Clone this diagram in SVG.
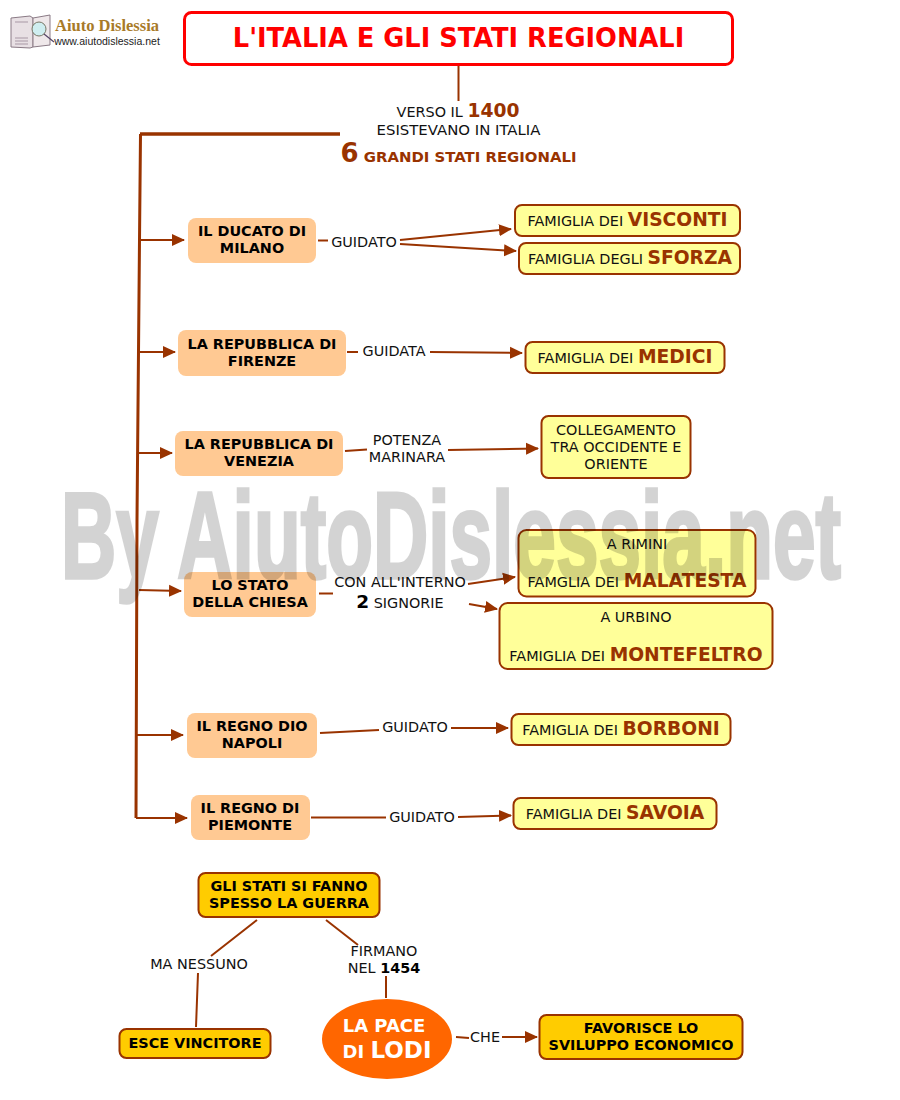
<svg xmlns="http://www.w3.org/2000/svg" width="900" height="1100" viewBox="0 0 900 1100">
<style>
text{font-family:"DejaVu Sans",Verdana,sans-serif;text-anchor:middle;fill:#111}
.t{font-size:14.400px}
.b{font-size:14.400px;font-weight:bold;fill:#000}
.h{font-size:18.700px;font-weight:bold;fill:#993300}
.p{fill:#ffc993;stroke:none}
.y{fill:#ffff99;stroke:#993300;stroke-width:2}
.o{fill:#ffcc00;stroke:#993300;stroke-width:2}
.c{fill:none;stroke:#993300;stroke-width:2}
.a{fill:none;stroke:#993300;stroke-width:2;marker-end:url(#ar)}
</style>
<defs><marker id="ar" markerUnits="userSpaceOnUse" markerWidth="13" markerHeight="13" refX="12" refY="6.500" orient="auto"><path d="M0 0.500L13 6.500L0 12.500Z" fill="#993300"/></marker></defs>
<rect width="900" height="1100" fill="#fff"/>
<g id="logo">
<path d="M11 18L30 16L33 18V47L30 48L11 47Z" fill="#e8e0e4" stroke="#8a7a85"/>
<path d="M33 18L50 15V45L33 47Z" fill="#efe8ea" stroke="#8a7a85"/>
<path d="M15 22H28M15 38H28M15 41H28M15 44H28" stroke="#a898a5"/>
<circle cx="39" cy="29" r="7" fill="#cfeef0" stroke="#776"/>
<path d="M44 34L54 42" stroke="#554466" stroke-width="1.200"/>
<text x="107" y="31" style="font-family:'Liberation Serif',serif;font-weight:bold;font-size:16.500px;fill:#a87a28">Aiuto Dislessia</text>
<text x="107" y="45" style="font-family:'Liberation Sans',sans-serif;font-size:10.500px;fill:#222">www.aiutodislessia.net</text>
</g>
<g id="connectors">
<path d="M458.500 66V101" class="c"/>
<path d="M340 134H140" class="c" style="stroke-width:3.500"/>
<path d="M140.500 134L139.500 240L137 520L136 818" class="c" style="stroke-width:3"/>
<path d="M140 240H184" class="a"/>
<path d="M140 352H175" class="a"/>
<path d="M139 453H172" class="a"/>
<path d="M139 590L181 591" class="a"/>
<path d="M137 735H183" class="a"/>
<path d="M136 818H187" class="a"/>
<path d="M318 240.500H328" class="c"/>
<path d="M400 240L511 229" class="a"/>
<path d="M400 244L516 251" class="a"/>
<path d="M347 352H358" class="c"/>
<path d="M430 352L522 353" class="a"/>
<path d="M345 451L367 449.500" class="c"/>
<path d="M448 450L538 448.500" class="a"/>
<path d="M319 593.500H333" class="c"/>
<path d="M468 584L515 577" class="a"/>
<path d="M469 604L497 609" class="a"/>
<path d="M320 733L379 730" class="c"/>
<path d="M451 728H508" class="a"/>
<path d="M311 817.500H386" class="c"/>
<path d="M458 817L511 815.500" class="a"/>
<path d="M257 920L211 956M198 973L196 1027M326 920L358 945M386 976V998M456 1037L469 1038" class="c"/>
<path d="M502 1037H537" class="a"/>
</g>
<g id="title"><rect x="184.500" y="12.500" width="548" height="52" rx="7" fill="#fff" stroke="#f00" stroke-width="3"/>
<text x="458.500" y="47" style="font-size:25.700px;font-weight:bold;fill:#f00">L'ITALIA E GLI STATI REGIONALI</text></g>
<g id="intro">
<text x="458" y="117" class="t">VERSO IL <tspan class="h">1400</tspan></text>
<text x="458.500" y="135" style="font-size:14.900px">ESISTEVANO IN ITALIA</text>
<text x="458.500" y="162" class="b" style="font-size:14.900px;fill:#993300"><tspan style="font-size:26px">6</tspan> GRANDI STATI REGIONALI</text>
</g>
<g id="milano"><rect x="188" y="218" width="128" height="45" rx="8" class="p"/><text x="252" y="236" class="b">IL DUCATO DI</text><text x="252" y="253" class="b">MILANO</text></g>
<g id="firenze"><rect x="178" y="330" width="168" height="46" rx="8" class="p"/><text x="262" y="349" class="b">LA REPUBBLICA DI</text><text x="262" y="366" class="b">FIRENZE</text></g>
<g id="venezia"><rect x="175" y="431" width="168" height="45" rx="8" class="p"/><text x="259" y="449" class="b">LA REPUBBLICA DI</text><text x="259" y="466" class="b">VENEZIA</text></g>
<g id="chiesa"><rect x="184" y="572" width="132" height="45" rx="8" class="p"/><text x="250" y="590" class="b">LO STATO</text><text x="250" y="607" class="b">DELLA CHIESA</text></g>
<g id="napoli"><rect x="187" y="713" width="130" height="45" rx="8" class="p"/><text x="252" y="731" class="b">IL REGNO DIO</text><text x="252" y="748" class="b">NAPOLI</text></g>
<g id="piemonte"><rect x="191" y="795" width="119" height="45" rx="8" class="p"/><text x="250" y="813" class="b">IL REGNO DI</text><text x="250" y="830" class="b">PIEMONTE</text></g>
<g id="labels">
<text x="364" y="247" class="t">GUIDATO</text>
<text x="394" y="356" class="t">GUIDATA</text>
<text x="407" y="445" class="t">POTENZA</text><text x="407" y="462" class="t">MARINARA</text>
<text x="400" y="587" class="t">CON ALL'INTERNO</text>
<text x="400" y="608" class="t"><tspan style="font-size:18.500px;font-weight:bold;fill:#000">2</tspan> SIGNORIE</text>
<text x="415" y="732" class="t">GUIDATO</text>
<text x="422" y="822" class="t">GUIDATO</text>
<text x="199" y="969" class="t">MA NESSUNO</text>
<text x="384" y="956" class="t">FIRMANO</text>
<text x="384" y="973" class="t">NEL <tspan style="font-weight:bold;fill:#000">1454</tspan></text>
<text x="485" y="1042" class="t">CHE</text>
</g>
<g id="visconti"><rect x="515" y="205" width="225" height="31" rx="7" class="y"/><text x="627.500" y="226" class="t">FAMIGLIA DEI <tspan class="h">VISCONTI</tspan></text></g>
<g id="sforza"><rect x="519" y="243" width="221" height="31" rx="7" class="y"/><text x="630" y="264" class="t">FAMIGLIA DEGLI <tspan class="h">SFORZA</tspan></text></g>
<g id="medici"><rect x="525.500" y="342" width="199" height="31" rx="7" class="y"/><text x="625" y="363" class="t">FAMIGLIA DEI <tspan class="h">MEDICI</tspan></text></g>
<g id="collegamento"><rect x="541.500" y="416" width="149" height="62" rx="7" class="y"/><text x="616" y="435" class="t">COLLEGAMENTO</text><text x="616" y="452" class="t">TRA OCCIDENTE E</text><text x="616" y="469" class="t">ORIENTE</text></g>
<g id="malatesta"><rect x="518.500" y="530" width="237" height="66.500" rx="8" class="y"/><text x="637" y="549" class="t">A RIMINI</text><text x="637" y="587" class="t">FAMGLIA DEI <tspan class="h">MALATESTA</tspan></text></g>
<g id="montefeltro"><rect x="499.500" y="603" width="273" height="66" rx="8" class="y"/><text x="636" y="622" class="t">A URBINO</text><text x="636" y="661" class="t">FAMIGLIA DEI <tspan class="h">MONTEFELTRO</tspan></text></g>
<g id="borboni"><rect x="511.500" y="714" width="219" height="31" rx="7" class="y"/><text x="621" y="735" class="t">FAMIGLIA DEI <tspan class="h">BORBONI</tspan></text></g>
<g id="savoia"><rect x="513.500" y="798" width="203" height="31" rx="7" class="y"/><text x="615" y="819" class="t">FAMIGLIA DEI <tspan class="h">SAVOIA</tspan></text></g>
<g id="guerra"><rect x="198.500" y="873" width="181" height="44" rx="7" class="o"/><text x="289" y="891" class="b">GLI STATI SI FANNO</text><text x="289" y="908" class="b">SPESSO LA GUERRA</text></g>
<g id="vincitore"><rect x="119.500" y="1029" width="151" height="29" rx="7" class="o"/><text x="195" y="1048" class="b">ESCE VINCITORE</text></g>
<g id="pace"><ellipse cx="387" cy="1039" rx="65" ry="40" fill="#ff6600"/><text x="384" y="1032" style="font-size:18px;font-weight:bold;fill:#fff">LA PACE</text><text x="387" y="1058" style="font-size:18px;font-weight:bold;fill:#fff">DI <tspan style="font-size:23px">LODI</tspan></text></g>
<g id="favorisce"><rect x="539.500" y="1015" width="203" height="44" rx="7" class="o"/><text x="641" y="1033" class="b">FAVORISCE LO</text><text x="641" y="1050" class="b">SVILUPPO ECONOMICO</text></g>
<g id="watermark"><text x="451" y="578" transform="translate(451 0) scale(.62 1) translate(-451 0)" textLength="1258" lengthAdjust="spacingAndGlyphs" style="font-family:'Liberation Sans',sans-serif;font-weight:bold;font-size:122px;fill:#000;stroke:#000;stroke-width:3.500;opacity:.17">By AiutoDislessia.net</text></g>
</svg>
